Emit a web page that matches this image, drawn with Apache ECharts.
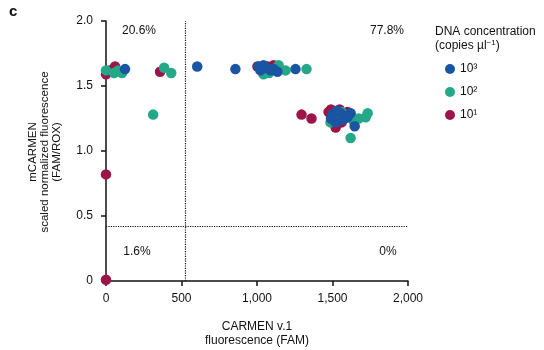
<!DOCTYPE html>
<html>
<head>
<meta charset="utf-8">
<script src="https://cdn.jsdelivr.net/npm/echarts@6/dist/echarts.min.js"></script>
<style>
  html, body { margin: 0; padding: 0; background: #fff; }
  #chart { width: 544px; height: 350px; }
</style>
</head>
<body>
<div id="chart"></div>
<script>
// x = CARMEN v.1 fluorescence (FAM), y = mCARMEN scaled normalized fluorescence
const conc1000 = [
  [126, 1.63], [604, 1.65], [857, 1.63], [1010, 1.65], [1023, 1.62], [1043, 1.66], [1060, 1.64],
  [1089, 1.62], [1110, 1.63], [1135, 1.61], [1255, 1.63], [1490, 1.25], [1500, 1.28], [1521, 1.22],
  [1530, 1.31], [1554, 1.29], [1567, 1.24], [1575, 1.27], [1600, 1.26], [1620, 1.29], [1647, 1.19]
]
const conc100 = [
  [0, 1.62], [53, 1.60], [80, 1.62], [106, 1.60], [312, 1.28], [385, 1.64], [432, 1.60],
  [1043, 1.59], [1080, 1.60], [1143, 1.66], [1189, 1.62], [1328, 1.63], [1487, 1.22], [1510, 1.26],
  [1560, 1.30], [1587, 1.26], [1620, 1.10], [1640, 1.23], [1673, 1.25], [1720, 1.26], [1733, 1.29]
]
const conc10 = [
  [0, 1.59], [0, 0.82], [0, 0.01], [20, 1.62], [60, 1.65], [358, 1.61],
  [1003, 1.65], [1050, 1.63], [1070, 1.65], [1110, 1.66], [1295, 1.28], [1361, 1.25], [1474, 1.30],
  [1490, 1.32], [1500, 1.27], [1521, 1.18], [1530, 1.24], [1547, 1.32], [1560, 1.22], [1580, 1.25], [1600, 1.30]
]
const seriesNames = ['10³', '10²', '10¹']
const xTicks = ['0', '500', '1,000', '1,500', '2,000']
const yTicks = ['0', '0.5', '1.0', '1.5', '2.0']
const cutX = 525
const cutY = 0.423
const quadrantLabels = ['20.6%', '77.8%', '1.6%', '0%']

const colors = { '10³': '#1A55A4', '10²': '#25A888', '10¹': '#9C1549' }
const font = 'Liberation Sans, Arial, sans-serif'

const chart = echarts.init(document.getElementById('chart'))

const mk = (name, data) => ({
  name: name,
  type: 'scatter',
  data: data,
  symbolSize: 10.5,
  itemStyle: { color: colors[name], opacity: 1 },
  z: 3
})

chart.setOption({
  animation: false,
  textStyle: { fontFamily: font },
  grid: { left: 106, right: 136, top: 21, bottom: 69 },
  legend: {
    orient: 'vertical',
    left: 440,
    top: 58,
    data: seriesNames,
    icon: 'circle',
    itemWidth: 10,
    itemHeight: 10,
    itemGap: 11,
    textStyle: { fontSize: 12, color: '#111', fontFamily: font }
  },
  xAxis: {
    type: 'value',
    min: 0, max: 2000, interval: 500,
    splitLine: { show: false },
    axisLine: { show: true, onZero: false, lineStyle: { color: '#111', width: 1.5 } },
    axisTick: { show: true, length: 5, lineStyle: { color: '#111', width: 1.5 } },
    axisLabel: { color: '#111', fontSize: 12, margin: 12, formatter: (v) => xTicks[Math.round(v / 500)] }
  },
  yAxis: {
    type: 'value',
    min: 0, max: 2, interval: 0.5,
    splitLine: { show: false },
    axisLine: { show: true, onZero: false, lineStyle: { color: '#111', width: 1.5 } },
    axisTick: { show: true, length: 5, lineStyle: { color: '#111', width: 1.5 } },
    axisLabel: { color: '#111', fontSize: 12, margin: 13, formatter: (v) => yTicks[Math.round(v / 0.5)] }
  },
  series: [
    Object.assign(mk('10¹', conc10), {
      markLine: {
        silent: true,
        symbol: 'none',
        label: { show: false },
        lineStyle: { color: '#111', type: 'dotted', width: 1.2 },
        data: [{ xAxis: cutX }, { yAxis: cutY }]
      }
    }),
    mk('10²', conc100),
    mk('10³', conc1000)
  ],
  graphic: [
    { type: 'text', left: 9, top: 4, style: { text: 'c', font: 'bold 15px ' + font, fill: '#111' } },
    { type: 'text', x: 139, y: 31, style: { text: quadrantLabels[0], font: '12px ' + font, fill: '#111', textAlign: 'center', textVerticalAlign: 'middle' } },
    { type: 'text', x: 387, y: 31, style: { text: quadrantLabels[1], font: '12px ' + font, fill: '#111', textAlign: 'center', textVerticalAlign: 'middle' } },
    { type: 'text', x: 137, y: 252, style: { text: quadrantLabels[2], font: '12px ' + font, fill: '#111', textAlign: 'center', textVerticalAlign: 'middle' } },
    { type: 'text', x: 388, y: 252, style: { text: quadrantLabels[3], font: '12px ' + font, fill: '#111', textAlign: 'center', textVerticalAlign: 'middle' } },
    {
      type: 'text', x: 45, y: 152, rotation: Math.PI / 2,
      style: {
        text: 'mCARMEN\nscaled normalized fluorescence\n(FAM/ROX)',
        font: '11.5px ' + font, fill: '#111', textAlign: 'center', textVerticalAlign: 'middle', lineHeight: 12
      }
    },
    {
      type: 'text', x: 257, y: 334,
      style: {
        text: 'CARMEN v.1\nfluorescence (FAM)',
        font: '12px ' + font, fill: '#111', textAlign: 'center', textVerticalAlign: 'middle', lineHeight: 14
      }
    },
    {
      type: 'text', x: 435, y: 25,
      style: {
        text: 'DNA concentration\n(copies µl{sup|−1})',
        font: '12px ' + font, fill: '#111', lineHeight: 14,
        rich: { sup: { fontSize: 8, verticalAlign: 'top', padding: [0, 0, 6, 0], fill: '#111' } }
      }
    }
  ]
})
</script>
</body>
</html>
